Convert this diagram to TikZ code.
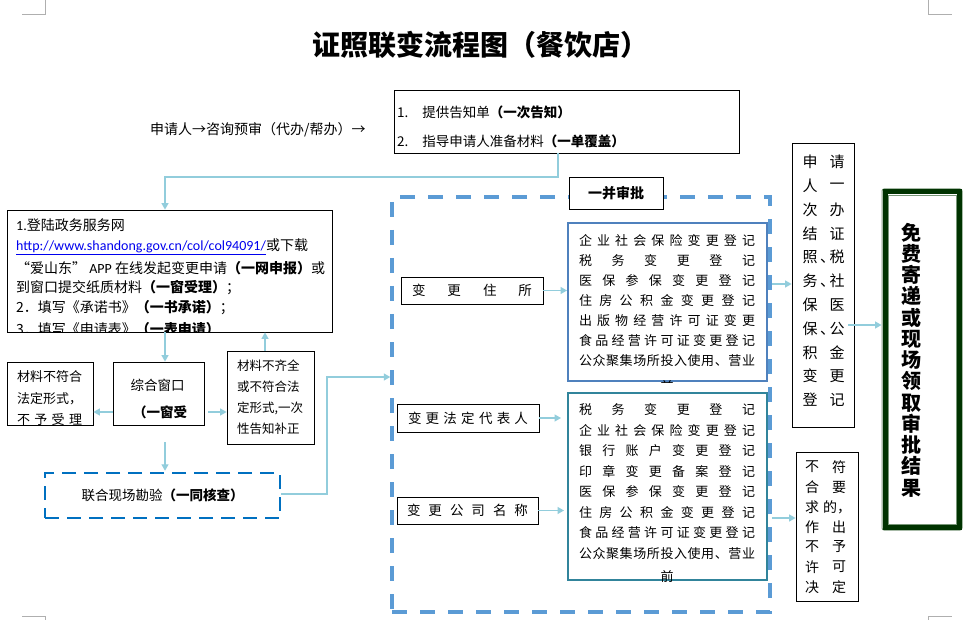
\documentclass[tikz,border=0pt]{standalone}
\usepackage{fontspec}
\setmainfont{Noto Sans CJK SC}
\newfontfamily\latfont{Carlito}
\usetikzlibrary{arrows.meta}
\definecolor{linkblue}{RGB}{146,205,220}
\definecolor{dashblue}{RGB}{91,155,213}
\definecolor{sitebdr}{RGB}{0,112,192}
\definecolor{listabdr}{RGB}{79,129,189}
\definecolor{listbbdr}{RGB}{49,132,155}
\definecolor{resgreen}{RGB}{0,51,0}
\definecolor{resedge}{RGB}{120,150,120}
\definecolor{urlblue}{RGB}{0,0,238}
\definecolor{markgray}{RGB}{175,175,175}
\let\endspread\relax
\def\spreadrun#1#2\endspread{#1\ifx\endspread#2\endspread\else\hfill\spreadrun#2\endspread\fi}
\newcommand\spreadline[2]{\makebox[#1][s]{\expandafter\spreadrun#2\endspread}}
\newcommand\dunmark{\makebox[0pt][l]{\hspace{2.5pt}、}}
\begin{document}
\begin{tikzpicture}[x=1pt,y=-1pt,
  every node/.style={inner sep=0pt,font=\fontsize{13.5}{16}\selectfont},
  box/.style={draw,line width=0.8pt},
  link/.style={draw=linkblue,line width=1.3pt,-{Triangle[width=7pt,length=6.5pt]}},
  leftline/.style={anchor=west,font=\fontsize{14}{16}\selectfont},
  listline/.style={font=\fontsize{13}{15}\selectfont},
  colchar/.style={font=\fontsize{15}{17}\selectfont},
  denychar/.style={font=\fontsize{14}{16}\selectfont}]
\useasboundingbox (0,0) rectangle (969,620);
\fill[white] (0,0) rectangle (969,620);
\draw[markgray,line width=0.8pt] (22,14) -- (45,14) -- (45,0) (928,0) -- (928,14) -- (952,14) (22,616) -- (45,616) -- (45,620) (928,620) -- (928,616) -- (952,616);
\node[font=\fontsize{28}{30}\selectfont\bfseries] (title) at (480,45) {证照联变流程图（餐饮店）};
\node[anchor=west,font=\fontsize{14}{16}\selectfont] (intro) at (150,130) {申请人→咨询预审（代办/帮办）→};
\node[box,minimum width=345pt,minimum height=63pt] (topbox) at (566.5,121.5) {};
\node[anchor=west] (t1) at (397,112) {1.\hspace{14pt}提供告知单\textbf{（一次告知）}};
\node[anchor=west] (t2) at (397,141) {2.\hspace{14pt}指导申请人准备材料\textbf{（一单覆盖）}};
\node[box,minimum width=325pt,minimum height=122pt] (lbox) at (169.5,271) {};
\begin{scope}
\clip (lbox.north west) rectangle (lbox.south east);
\node[leftline] (s1) at (16,225) {{\latfont 1.}登陆政务服务网};
\node[leftline] (s2) at (16,247) {{\color{urlblue}\underline{\latfont http://www.shandong.gov.cn/col/col94091/}}或下载};
\node[leftline] (s3) at (16,268) {“爱山东”{\latfont\ APP} 在线发起变更申请\textbf{（一网申报）}或};
\node[leftline] (s4) at (16,288) {到窗口提交纸质材料\textbf{（一窗受理）}；};
\node[leftline] (s5) at (16,308) {2．填写《承诺书》\textbf{（一书承诺）}；};
\node[leftline] (s6) at (16,329) {3．填写《申请表》\textbf{（一表申请）}};
\end{scope}
\node[box,minimum width=91pt,minimum height=63pt] (win) at (158.5,393.5) {};
\node (wina) at (157.5,385) {综合窗口};
\node (winb) at (160,412) {\textbf{（一窗受}};
\node[box,minimum width=86pt,minimum height=63pt] (nobox) at (50,393.5) {};
\begin{scope}
\clip (nobox.north west) rectangle (nobox.south east);
\foreach \txt [count=\i from 0] in {材料不符合,法定形式，,不予受理}
  \node[font=\fontsize{13}{15}\selectfont] (no\i) at (49.5,377+21.5*\i) {\spreadline{65pt}{\txt}};
\end{scope}
\node[box,minimum width=87pt,minimum height=93pt] (supp) at (270.5,397.5) {};
\foreach \txt [count=\i from 0] in {材料不齐全,或不符合法,定形式{,}一次,性告知补正}
  \node[anchor=west,font=\fontsize{12.5}{15}\selectfont] (su\i) at (237,366+21*\i) {\txt};
\node[draw=sitebdr,line width=2.5pt,dash pattern=on 14pt off 8pt,minimum width=235pt,minimum height=45pt] (site) at (162.5,495.5) {联合现场勘验\textbf{（一同核查）}};
\node[draw=dashblue,line width=3.5pt,dash pattern=on 15pt off 13pt,minimum width=378pt,minimum height=415pt] (bigdash) at (581,404.5) {};
\node[box,fill=white,minimum width=94pt,minimum height=32pt,font=\fontsize{14}{16}\selectfont\bfseries] (joint) at (616,193) {一并审批};
\node[box,minimum width=142pt,minimum height=27pt] (addr) at (472,290.5) {\spreadline{120pt}{变更住所}};
\node[box,minimum width=142pt,minimum height=28pt] (legal) at (468,418) {\spreadline{120pt}{变更法定代表人}};
\node[box,minimum width=141pt,minimum height=27pt] (name) at (467.5,510.5) {\spreadline{121pt}{变更公司名称}};
\node[draw=listabdr,line width=2pt,minimum width=199pt,minimum height=158pt] (lista) at (667.5,302) {};
\begin{scope}
\clip (lista.north west) rectangle (lista.south east);
\foreach \txt [count=\i from 0] in {企业社会保险变更登记,税务变更登记,医保参保变更登记,住房公积金变更登记,出版物经营许可证变更,食品经营许可证变更登记,公众聚集场所投入使用、营业}
  \node[listline] (la\i) at (667,241+20*\i) {\spreadline{176pt}{\txt}};
\node[listline] (la7) at (667,387) {前};
\end{scope}
\node[draw=listbbdr,line width=2pt,minimum width=199pt,minimum height=187pt] (listb) at (667.5,486.5) {};
\begin{scope}
\clip (listb.north west) rectangle (listb.south east);
\foreach \txt [count=\i from 0] in {税务变更登记,企业社会保险变更登记,银行账户变更登记,印章变更备案登记,医保参保变更登记,住房公积金变更登记,食品经营许可证变更登记,公众聚集场所投入使用、营业}
  \node[listline] (lb\i) at (667,410+20.5*\i) {\spreadline{176pt}{\txt}};
\node[listline] (lb8) at (667,577) {前};
\end{scope}
\node[box,minimum width=62pt,minimum height=284pt] (done) at (823,285) {};
\foreach \a/\b [count=\i from 0] in {申/请,人/一,次/办,结/证,照\dunmark/税,务\dunmark/社,保/医,保\dunmark/公,积/金,变/更,登/记}
  {\node[colchar] (dl\i) at (810,162+23.8*\i) {\a}; \node[colchar] (dr\i) at (837,162+23.8*\i) {\b};}
\node[box,minimum width=62pt,minimum height=149pt] (deny) at (827,526.5) {};
\foreach \a/\b [count=\i from 0] in {不/符,合/要,求/,作/出,不/予,许/可,决/定}
  {\node[denychar] (nl\i) at (812,467+20*\i) {\a}; \node[denychar] (nr\i) at (839,467+20*\i) {\b};}
\node[denychar] (nm) at (830,507) {的\makebox[0pt][l]{，}};
\node[draw=resedge,line width=1pt,rounded corners=2pt,minimum width=80pt,minimum height=341pt] (result) at (922,359.5) {};
\draw[resgreen,line width=5pt] ([shift={(3.5,3.5)}]result.north west) rectangle ([shift={(-3.5,-3.5)}]result.south east);
\draw[resedge,line width=0.8pt] ([shift={(6.5,6.5)}]result.north west) rectangle ([shift={(-6.5,-6.5)}]result.south east);
\node[align=center,font=\fontsize{20}{21.25}\selectfont\bfseries] (restext) at (911,360) {免\\费\\寄\\递\\或\\现\\场\\领\\取\\审\\批\\结\\果};
\coordinate (xa) at (165,0);
\coordinate (xb) at (265,0);
\coordinate (ka) at (558,177);
\coordinate (kb) at (327,377);
\coordinate (kc) at (327,494);
\coordinate (ya) at (0,412);
\coordinate (yb) at (0,284);
\coordinate (yc) at (0,325);
\coordinate (yd) at (0,518);
\draw[link] (topbox.south -| ka) -- (ka) -- (ka -| xa) -- (lbox.north -| xa);
\draw[link] (lbox.south -| xa) -- (win.north -| xa);
\draw[link] (win.west |- ya) -- (nobox.east |- ya);
\draw[link,shorten <=4pt] (win.east |- ya) -- (supp.west |- ya);
\draw[link] (supp.north -| xb) -- (lbox.south -| xb);
\draw[link,shorten <=17pt,shorten >=1pt] (win.south -| xa) -- (site.north -| xa);
\draw[link] (site.east |- kc) -- (kc) -- (kb) -- (bigdash.west |- kb);
\draw[link] (addr.east) -- (addr.east -| lista.west);
\draw[link,shorten >=6pt] (legal.east) -- (legal.east -| listb.west);
\draw[link,shorten >=3pt] (name.east) -- (name.east -| listb.west);
\draw[link] (bigdash.east |- yb) -- (done.west |- yb);
\draw[link,shorten <=-6pt] (done.east |- yc) -- (result.west |- yc);
\draw[link] (bigdash.east |- yd) -- (deny.west |- yd);
\end{tikzpicture}
\end{document}
